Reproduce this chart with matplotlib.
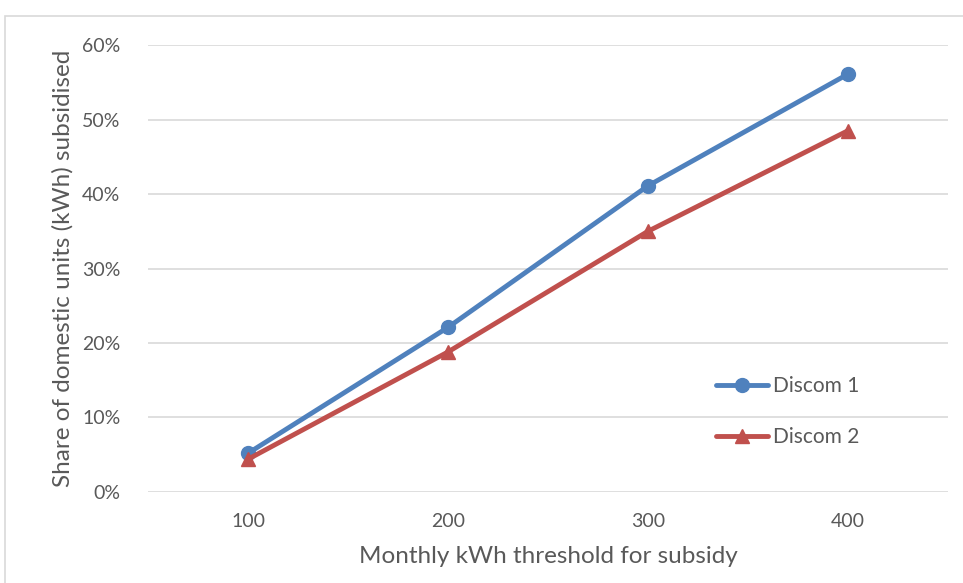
import matplotlib
matplotlib.use("Agg")
import matplotlib.pyplot as plt
from matplotlib.ticker import PercentFormatter
from matplotlib.patches import Rectangle

thresholds = [100, 200, 300, 400]
discom1 = [0.052, 0.221, 0.411, 0.561]
discom2 = [0.044, 0.188, 0.350, 0.485]
y_ticks = [0.0, 0.1, 0.2, 0.3, 0.4, 0.5, 0.6]

text_col = '#595959'
plt.rcParams['font.family'] = ['Lato', 'DejaVu Sans']

fig = plt.figure(figsize=(9.63, 5.83), dpi=100, facecolor='white')
ax = fig.add_axes([0.1537, 0.1561, 0.8307, 0.7667])

# outer chart frame (runs off the right and bottom edge)
fig.patches.append(Rectangle((5 / 963, -0.05), 1.0, 1 - 16 / 583 + 0.05,
                             transform=fig.transFigure, fill=False,
                             edgecolor='#d9d9d9', linewidth=1.2))

ax.plot(thresholds, discom1, color='#4f81bd', linewidth=3.5, marker='o',
        markersize=10, label='Discom 1', solid_capstyle='round', zorder=3)
ax.plot(thresholds, discom2, color='#c0504d', linewidth=3.5, marker='^',
        markersize=10, label='Discom 2', solid_capstyle='round', zorder=3)

ax.set_xlim(50, 450)
ax.set_ylim(0, 0.6)
ax.set_xticks(thresholds)
ax.set_yticks(y_ticks)
ax.yaxis.set_major_formatter(PercentFormatter(1.0, decimals=0))
ax.grid(axis='y', color='#d9d9d9', linewidth=1.2)
ax.set_axisbelow(True)
for s in ax.spines.values():
    s.set_visible(False)
ax.tick_params(length=0, labelsize=14, colors=text_col)
ax.tick_params(axis='x', pad=15)
ax.tick_params(axis='y', pad=20)

ax.set_xlabel('Monthly kWh threshold for subsidy', fontsize=17.5, color=text_col, labelpad=12)
ax.set_ylabel('Share of domestic units (kWh) subsidised', fontsize=17.5, color=text_col, labelpad=6)

leg = ax.legend(loc='lower left', bbox_to_anchor=(0.686, 0.058), frameon=False,
                fontsize=15, labelcolor=text_col, handlelength=2.5,
                handletextpad=0.25, labelspacing=1.5)

fig.savefig('out.png', dpi=100)
